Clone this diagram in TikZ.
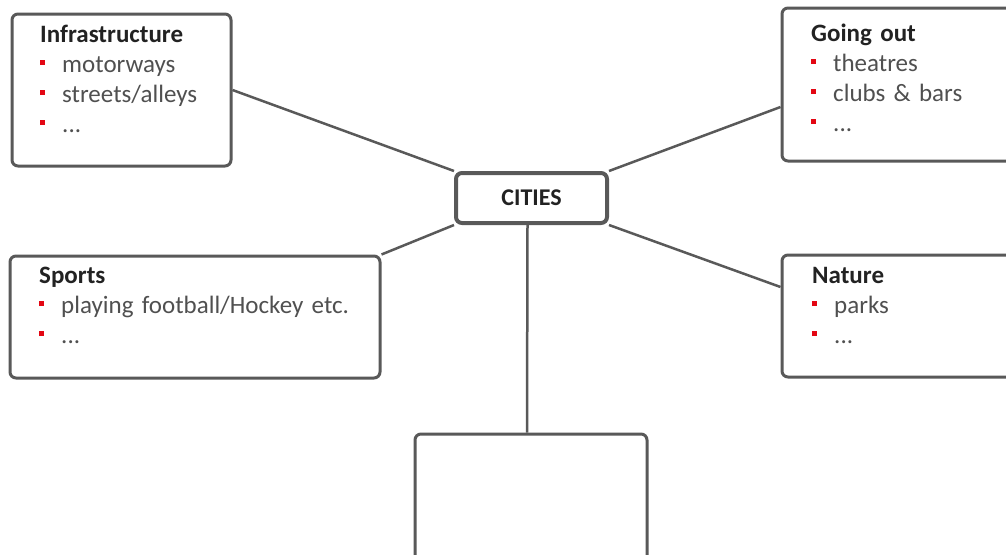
\documentclass[tikz,border=0pt]{standalone}
\usepackage{fontspec}
\setmainfont{Carlito}
\definecolor{boxgray}{RGB}{89,89,89}
\definecolor{bulred}{RGB}{227,6,19}
\definecolor{itemgray}{RGB}{80,80,80}
\definecolor{titlegray}{RGB}{34,34,34}
\newcommand{\itm}[1]{\makebox[22pt][l]{\textcolor{bulred}{\rule[7pt]{5pt}{5pt}}}#1}
\newcommand{\ttl}[1]{\textbf{\textcolor{titlegray}{#1}}}

\begin{document}
\begin{tikzpicture}[x=1pt,y=-1pt,
    box/.style={draw=boxgray,line width=3pt,rounded corners=6pt,fill=white},
    hub/.style={box,line width=4pt,text=titlegray,font=\fontsize{24}{28}\selectfont\bfseries},
    txt/.style={anchor=base west,align=left,text width=360pt,inner sep=0pt,
      text=itemgray,font=\fontsize{25}{30}\selectfont},
    link/.style={draw=boxgray,line width=2.5pt}]
  \useasboundingbox (0,0) rectangle (1006,554);
  \clip (0,0) rectangle (1006,554);
  % boxes
  \node[box,minimum width=219pt,minimum height=152pt] (infra) at (121.5,90) {};
  \node[box,minimum width=250pt,minimum height=153pt] (going) at (907,84.5) {};
  \node[hub,minimum width=151pt,minimum height=50pt] (cities) at (531.5,198) {CITIES};
  \node[box,minimum width=370pt,minimum height=122pt] (sports) at (195,317) {};
  \node[box,minimum width=250pt,minimum height=122pt] (nature) at (907,316) {};
  \node[box,minimum width=232pt,minimum height=170pt] (open) at (531,519) {};
  % connectors
  \draw[link] (infra.east) -- (cities.north west);
  \draw[link] ([yshift=-22.5pt]going.west) -- (cities.north east);
  \draw[link] (sports.north east) -- (cities.south west);
  \draw[link] (cities.south east) -- ([yshift=29pt]nature.west);
  \draw[link] ([xshift=-4pt]cities.south) -- ([xshift=-4pt]open.north);
  % texts
  \node[txt] (infra-txt) at (40,42) {\ttl{Infrastructure}\\ \itm{motorways}\\ \itm{streets/alleys}\\ \itm{...}};
  \node[txt] (going-txt) at (811,41) {\ttl{Going out}\\ \itm{theatres}\\ \itm{clubs \& bars}\\ \itm{...}};
  \node[txt] (sports-txt) at (39,283) {\ttl{Sports}\\ \itm{playing football/Hockey etc.}\\ \itm{...}};
  \node[txt] (nature-txt) at (812,283) {\ttl{Nature}\\ \itm{parks}\\ \itm{...}};
\end{tikzpicture}
\end{document}
